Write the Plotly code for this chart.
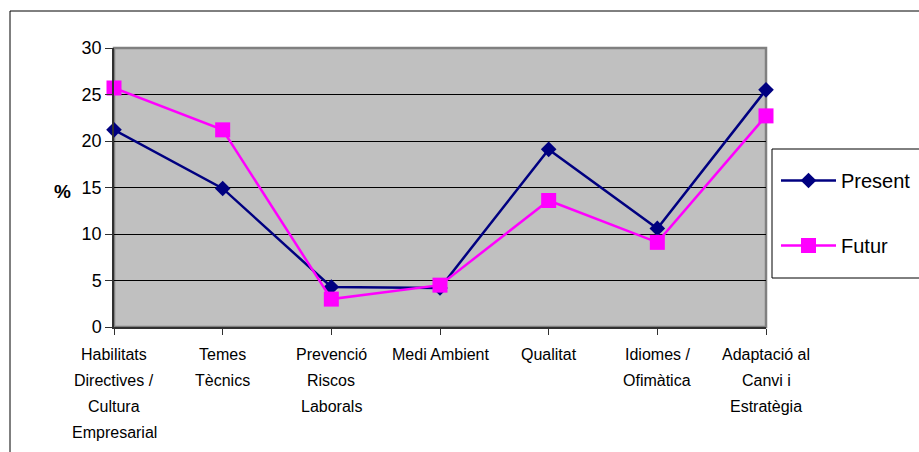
import plotly.graph_objects as go

# Categories and survey percentages
categories = [
    "Habilitats<br>Directives /<br>Cultura<br>Empresarial",
    "Temes<br>Tècnics",
    "Prevenció<br>Riscos<br>Laborals",
    "Medi Ambient",
    "Qualitat",
    "Idiomes /<br>Ofimàtica",
    "Adaptació al<br>Canvi i<br>Estratègia",
]
present = [21.2, 14.9, 4.3, 4.2, 19.1, 10.6, 25.5]
futur = [25.7, 21.2, 3.0, 4.5, 13.6, 9.1, 22.7]
y_ticks = [0, 5, 10, 15, 20, 25, 30]

W, H = 919, 452
L, R, T, B = 114, 153, 48, 125
pw, ph = W - L - R, H - T - B
FONT = "Liberation Sans, Arial, sans-serif"


def px_x(v):
    return (v - L) / pw


def px_y(v):
    return (H - B - v) / ph


xpos = list(range(len(categories)))

fig = go.Figure()
fig.add_trace(go.Scatter(
    x=xpos, y=present, name="Present", mode="lines+markers",
    line=dict(color="#000080", width=2.5),
    marker=dict(symbol="diamond", size=12, color="#000080"),
    cliponaxis=False, legendgroup="p",
))
fig.add_trace(go.Scatter(
    x=xpos, y=futur, name="Futur", mode="lines+markers",
    line=dict(color="#FF00FF", width=2.5),
    marker=dict(symbol="square", size=15, color="#FF00FF"),
    cliponaxis=False, legendgroup="f",
))

shapes = [
    # outer chart frame
    dict(type="rect", xref="paper", yref="paper",
         x0=px_x(10), x1=px_x(930), y0=px_y(470), y1=px_y(11),
         line=dict(color="black", width=1), layer="below"),
    # plot area border (top / right)
    dict(type="rect", xref="paper", yref="paper",
         x0=0, x1=1, y0=0, y1=1,
         line=dict(color="#808080", width=2.5), layer="below"),
    # legend box
    dict(type="rect", xref="paper", yref="paper",
         x0=px_x(772), x1=px_x(930), y0=px_y(278), y1=px_y(149),
         line=dict(color="black", width=1), fillcolor="white", layer="below"),
]

# category labels, one line at a time with wider line spacing
annotations = [dict(
    text="<b>%</b>", xref="paper", yref="paper",
    x=px_x(52), y=px_y(191), showarrow=False,
    font=dict(size=19, family=FONT),
)]
for i, label in enumerate(categories):
    for j, line in enumerate(label.split("<br>")):
        annotations.append(dict(
            text=line, xref="x", yref="paper",
            x=xpos[i], y=px_y(354.5 + 25.9 * j),
            xanchor="center", yanchor="middle", showarrow=False,
            font=dict(size=16, family=FONT),
        ))

fig.update_layout(
    width=W, height=H,
    margin=dict(l=L, r=R, t=T, b=B, autoexpand=False),
    paper_bgcolor="white",
    plot_bgcolor="#C0C0C0",
    font=dict(family=FONT, color="black"),
    shapes=shapes,
    annotations=annotations,
    showlegend=True,
    legend=dict(
        x=px_x(776), y=px_y(161), xanchor="left", yanchor="top",
        bgcolor="rgba(0,0,0,0)", borderwidth=0,
        font=dict(size=20, family=FONT),
        tracegroupgap=36, itemwidth=55,
    ),
)

fig.update_xaxes(
    range=[0, len(categories) - 1],
    tickvals=xpos, showticklabels=False,
    showgrid=False, zeroline=False,
    showline=True, linecolor="#303030", linewidth=1.5,
    ticks="outside", ticklen=6, tickcolor="#303030", tickwidth=1,
)
fig.update_yaxes(
    range=[0, 30], tickvals=y_ticks,
    showgrid=True, gridcolor="black", gridwidth=1,
    zeroline=False,
    showline=True, linecolor="#303030", linewidth=1.5,
    ticks="outside", ticklen=7, tickcolor="#303030", tickwidth=1,
    tickfont=dict(size=18, family=FONT),
)

fig.write_html("out.html")
